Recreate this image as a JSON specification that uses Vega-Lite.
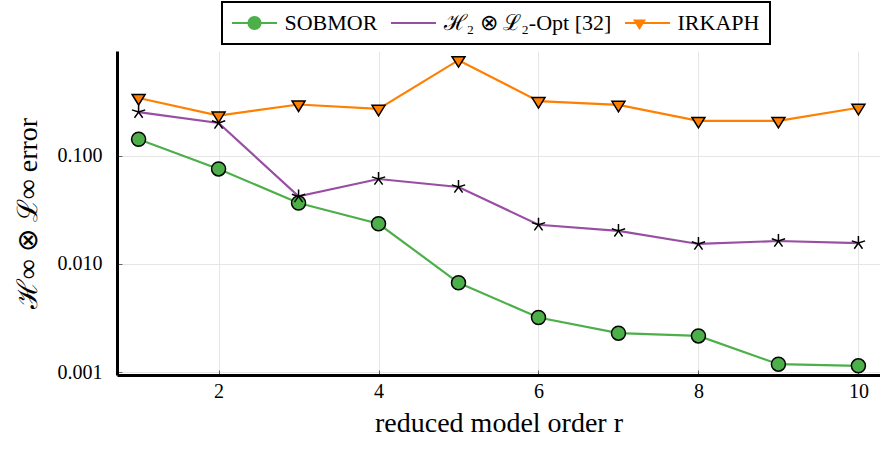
{
  "$schema": "https://vega.github.io/schema/vega-lite/v6.json",
  "width": 763,
  "height": 324,
  "autosize": {"type": "none"},
  "padding": {"left": 117, "top": 51, "right": 0, "bottom": 74},
  "background": "white",
  "config": {
    "view": {"stroke": null},
    "font": "Liberation Serif",
    "axis": {
      "domainColor": "black",
      "domainWidth": 3,
      "gridColor": "#e6e6e6",
      "gridWidth": 1,
      "tickColor": "#666666",
      "tickSize": -5,
      "labelFont": "Liberation Serif",
      "labelFontSize": 20,
      "labelColor": "black",
      "titleFont": "Liberation Serif",
      "titleFontSize": 28,
      "titleFontWeight": "normal",
      "titleColor": "black"
    },
    "legend": {"strokeWidth": 2}
  },
  "data": {
    "values": [
      {"r": 1, "method": "SOBMOR", "value": 0.1415},
      {"r": 2, "method": "SOBMOR", "value": 0.0753},
      {"r": 3, "method": "SOBMOR", "value": 0.0365},
      {"r": 4, "method": "SOBMOR", "value": 0.0235},
      {"r": 5, "method": "SOBMOR", "value": 0.00671},
      {"r": 6, "method": "SOBMOR", "value": 0.00321},
      {"r": 7, "method": "SOBMOR", "value": 0.0023},
      {"r": 8, "method": "SOBMOR", "value": 0.00217},
      {"r": 9, "method": "SOBMOR", "value": 0.00119},
      {"r": 10, "method": "SOBMOR", "value": 0.00115},
      {"r": 1, "method": "ℋ₂ ⊗ ℒ₂-Opt [32]", "value": 0.252},
      {"r": 2, "method": "ℋ₂ ⊗ ℒ₂-Opt [32]", "value": 0.2},
      {"r": 3, "method": "ℋ₂ ⊗ ℒ₂-Opt [32]", "value": 0.042},
      {"r": 4, "method": "ℋ₂ ⊗ ℒ₂-Opt [32]", "value": 0.0608},
      {"r": 5, "method": "ℋ₂ ⊗ ℒ₂-Opt [32]", "value": 0.0513},
      {"r": 6, "method": "ℋ₂ ⊗ ℒ₂-Opt [32]", "value": 0.023},
      {"r": 7, "method": "ℋ₂ ⊗ ℒ₂-Opt [32]", "value": 0.0202},
      {"r": 8, "method": "ℋ₂ ⊗ ℒ₂-Opt [32]", "value": 0.0153},
      {"r": 9, "method": "ℋ₂ ⊗ ℒ₂-Opt [32]", "value": 0.0163},
      {"r": 10, "method": "ℋ₂ ⊗ ℒ₂-Opt [32]", "value": 0.0156},
      {"r": 1, "method": "IRKAPH", "value": 0.34},
      {"r": 2, "method": "IRKAPH", "value": 0.234},
      {"r": 3, "method": "IRKAPH", "value": 0.296},
      {"r": 4, "method": "IRKAPH", "value": 0.27},
      {"r": 5, "method": "IRKAPH", "value": 0.759},
      {"r": 6, "method": "IRKAPH", "value": 0.318},
      {"r": 7, "method": "IRKAPH", "value": 0.294},
      {"r": 8, "method": "IRKAPH", "value": 0.209},
      {"r": 9, "method": "IRKAPH", "value": 0.209},
      {"r": 10, "method": "IRKAPH", "value": 0.276}
    ]
  },
  "encoding": {
    "x": {
      "field": "r",
      "type": "quantitative",
      "scale": {"domain": [0.73, 10.27], "nice": false, "zero": false},
      "axis": {"values": [2, 4, 6, 8, 10], "title": "reduced model order r", "labelPadding": 11, "titlePadding": 8}
    },
    "y": {
      "field": "value",
      "type": "quantitative",
      "scale": {"type": "log", "domain": [0.000946, 0.922], "nice": false},
      "axis": {"values": [0.001, 0.01, 0.1], "format": ".3f", "title": "ℋ∞ ⊗ ℒ∞ error", "labelPadding": 20, "titlePadding": 15}
    }
  },
  "layer": [
    {
      "mark": {"type": "line", "strokeWidth": 2.2},
      "encoding": {
        "stroke": {
          "field": "method",
          "type": "nominal",
          "sort": ["SOBMOR", "ℋ₂ ⊗ ℒ₂-Opt [32]", "IRKAPH"],
          "scale": {"range": ["#4daf4a", "#984ea3", "#ff7f00"]},
          "legend": {
            "orient": "none",
            "legendX": 105,
            "legendY": -49,
            "direction": "horizontal",
            "title": null,
            "symbolType": "M-2.25,0H2.25",
            "symbolSize": 400,
            "symbolStrokeWidth": 1.9,
            "symbolOffset": 11.5,
            "labelOffset": 19,
            "labelFont": "Liberation Serif",
            "labelFontSize": 22,
            "labelColor": "black",
            "labelLimit": 400,
            "padding": 10,
            "columnPadding": 9,
            "strokeColor": "black"
          }
        }
      }
    },
    {
      "mark": {"type": "point", "filled": true, "stroke": "black", "strokeWidth": 1.5, "size": 400, "opacity": 1},
      "encoding": {
        "fill": {
          "field": "method",
          "type": "nominal",
          "scale": {"domain": ["SOBMOR", "ℋ₂ ⊗ ℒ₂-Opt [32]", "IRKAPH"], "range": ["#4daf4a", "#000000", "#ff7f00"]},
          "legend": {
            "orient": "none",
            "legendX": 105,
            "legendY": -49,
            "direction": "horizontal",
            "title": null,
            "symbolSize": 400,
            "symbolStrokeWidth": 1.5,
            "symbolStrokeColor": "black",
            "symbolOffset": 11.5,
            "labelOffset": 19,
            "labelFont": "Liberation Serif",
            "labelFontSize": 22,
            "labelColor": "transparent",
            "labelLimit": 400,
            "padding": 10,
            "columnPadding": 9
          }
        },
        "shape": {
          "field": "method",
          "type": "nominal",
          "scale": {
            "domain": ["SOBMOR", "ℋ₂ ⊗ ℒ₂-Opt [32]", "IRKAPH"],
            "range": [
              "M0.7,0A0.7,0.7,0,1,1,-0.7,0A0.7,0.7,0,1,1,0.7,0Z",
              "M0,0L0,-0.7M0,0L0.666,-0.216M0,0L-0.666,-0.216M0,0L-0.411,0.566M0,0L0.411,0.566",
              "M-0.65,-0.35L0.65,-0.35L0,0.7Z"
            ]
          },
          "legend": {
            "orient": "none",
            "legendX": 105,
            "legendY": -49,
            "direction": "horizontal",
            "title": null,
            "symbolSize": 400,
            "symbolStrokeWidth": 1.5,
            "symbolStrokeColor": "black",
            "symbolOffset": 11.5,
            "labelOffset": 19,
            "labelFont": "Liberation Serif",
            "labelFontSize": 22,
            "labelColor": "transparent",
            "labelLimit": 400,
            "padding": 10,
            "columnPadding": 9
          }
        }
      }
    }
  ]
}
